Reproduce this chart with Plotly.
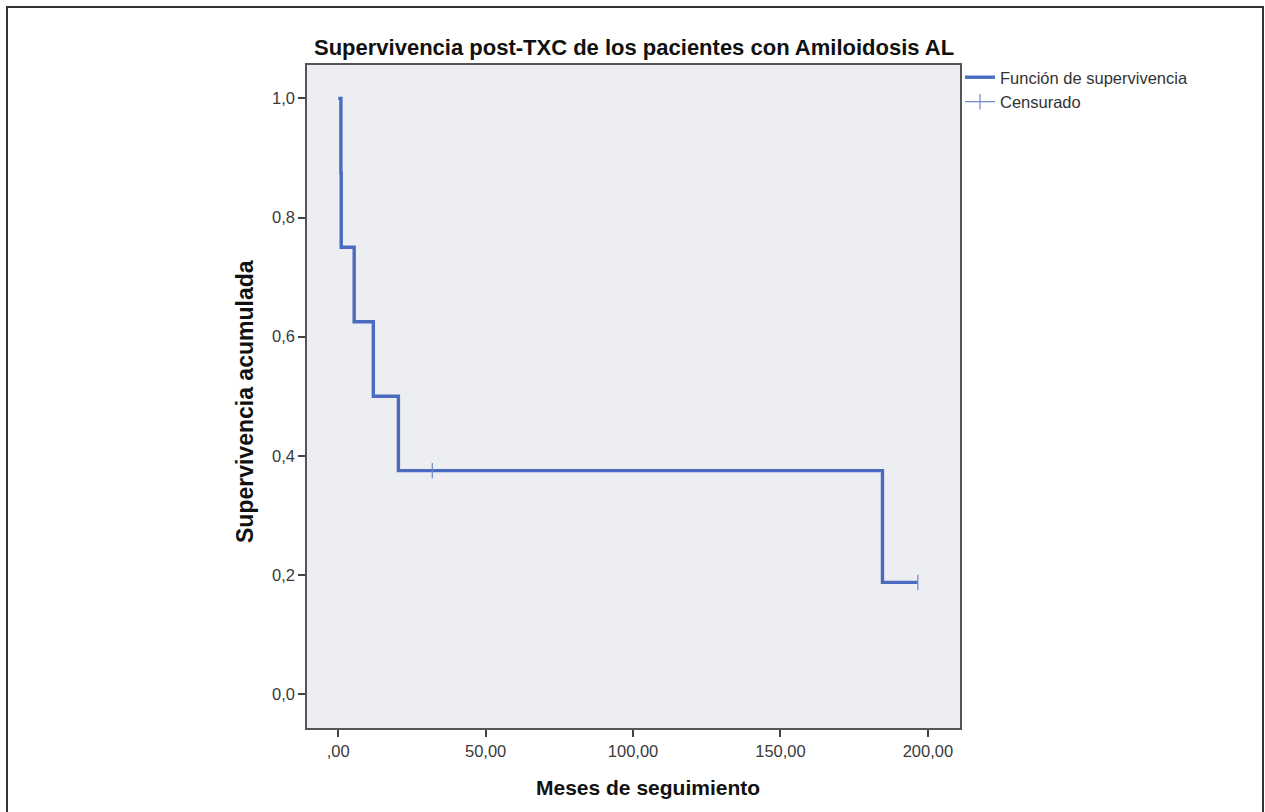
import plotly.graph_objects as go

# Kaplan-Meier step data
step_times = [0, 0.9, 1.0, 5.4, 11.9, 20.4, 184.6, 196.6]
step_surv = [1.0, 0.875, 0.75, 0.625, 0.5, 0.375, 0.1875, 0.1875]
censor_times = [31.9, 196.6]
censor_surv = [0.375, 0.1875]

x_tickvals = [0, 50, 100, 150, 200]
x_ticktext = [",00", "50,00", "100,00", "150,00", "200,00"]
y_tickvals = [0.0, 0.2, 0.4, 0.6, 0.8, 1.0]
y_ticktext = ["0,0", "0,2", "0,4", "0,6", "0,8", "1,0"]

title_text = "Supervivencia post-TXC de los pacientes con Amiloidosis AL"
x_title = "Meses de seguimiento"
y_title = "Supervivencia acumulada"

FONT = "Arial, Liberation Sans, sans-serif"
W, H = 1265, 812
L, R, T, B = 307, 960, 65, 728

fig = go.Figure()
fig.add_trace(go.Scatter(
    x=step_times, y=step_surv, mode="lines", line_shape="hv",
    line=dict(color="#4a6bc0", width=3.4),
    name="Función de supervivencia", hoverinfo="skip"))
fig.add_trace(go.Scatter(
    x=censor_times, y=censor_surv, mode="markers",
    marker=dict(symbol="line-ns", size=11, line=dict(color="#6f86c6", width=1.2)),
    name="Censurado", hoverinfo="skip", showlegend=False))
fig.add_trace(go.Scatter(
    x=[None], y=[None], mode="lines+markers",
    line=dict(color="#6f86c6", width=1.2),
    marker=dict(symbol="line-ns", size=11, line=dict(color="#6f86c6", width=1.2)),
    name="Censurado"))

def px_x(p):
    return (p - L) / (R - L)

def px_y(q):
    return (B - q) / (B - T)

axis_common = dict(
    showgrid=False, zeroline=False, showline=True, mirror=True,
    linecolor="#555555", linewidth=1.6, ticks="outside", ticklen=7,
    tickwidth=1.6, tickcolor="#444444",
    tickfont=dict(family=FONT, size=16.5, color="#3a3a3a"))

fig.update_layout(
    width=W, height=H,
    margin=dict(l=L, r=W - R, t=T, b=H - B),
    paper_bgcolor="white", plot_bgcolor="#eceef1",
    font=dict(family=FONT),
    showlegend=True,
    legend=dict(x=1.0, xanchor="left", y=px_y(60), yanchor="top",
                bgcolor="rgba(0,0,0,0)", itemwidth=30,
                font=dict(family=FONT, size=16.5, color="#333333"),
                tracegroupgap=0),
    xaxis=dict(range=[-10.6, 210.9], tickvals=x_tickvals, ticktext=x_ticktext,
               **axis_common),
    yaxis=dict(range=[-0.057, 1.056], tickvals=y_tickvals, ticktext=y_ticktext,
               **axis_common),
    annotations=[
        dict(text="<b>" + title_text + "</b>", xref="paper", yref="paper",
             x=0.5, y=px_y(47), xanchor="center", yanchor="middle",
             showarrow=False, font=dict(family=FONT, size=22, color="#111111")),
        dict(text="<b>" + x_title + "</b>", xref="paper", yref="paper",
             x=px_x(648), y=px_y(788), xanchor="center", yanchor="middle",
             showarrow=False, font=dict(family=FONT, size=21, color="#111111")),
        dict(text="<b>" + y_title + "</b>", xref="paper", yref="paper",
             x=px_x(245), y=px_y(402), xanchor="center", yanchor="middle",
             textangle=-90, showarrow=False,
             font=dict(family=FONT, size=23, color="#111111")),
    ],
    shapes=[
        dict(type="rect", xref="paper", yref="paper",
             x0=px_x(7), x1=px_x(1263), y0=px_y(830), y1=px_y(7),
             line=dict(color="#333333", width=2), fillcolor="rgba(0,0,0,0)",
             layer="above"),
    ],
)

fig.write_html("out.html", config={"displayModeBar": False},
               post_script="document.body.style.margin='0';document.body.style.padding='0';")
